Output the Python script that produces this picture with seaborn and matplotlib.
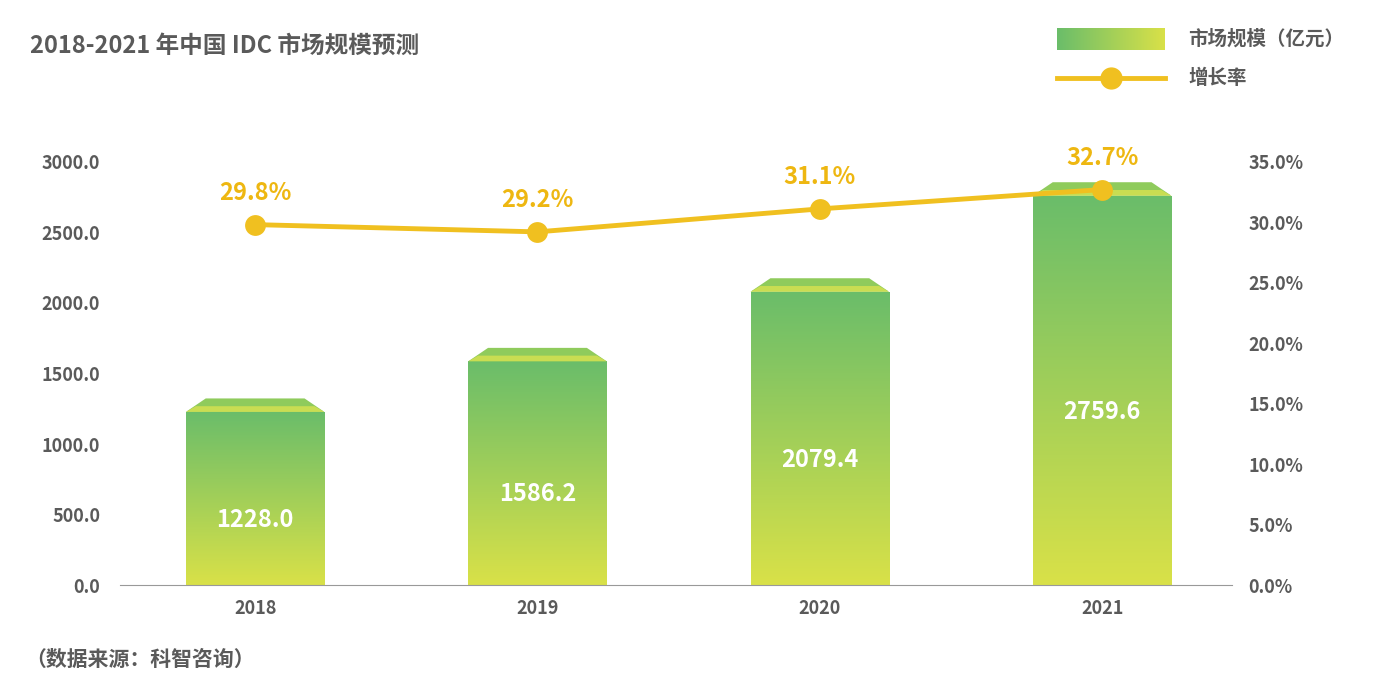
import numpy as np
import pandas as pd
import matplotlib
matplotlib.use("Agg")
import matplotlib.pyplot as plt
import seaborn as sns
from matplotlib.patches import Polygon, Rectangle
from matplotlib.lines import Line2D

years = ["2018", "2019", "2020", "2021"]
market = [1228.0, 1586.2, 2079.4, 2759.6]
growth = [29.8, 29.2, 31.1, 32.7]
left_ticks = [0, 500, 1000, 1500, 2000, 2500, 3000]
right_ticks = [0, 5, 10, 15, 20, 25, 30, 35]

plt.rcParams["font.family"] = ["Noto Sans CJK SC", "DejaVu Sans"]
TXT = "#5a5a5a"
LINE = "#f0c020"
LBL = "#eeb711"

fig = plt.figure(figsize=(13.75, 7), dpi=100)
ax = fig.add_axes([0.087, 0.164, 0.809, 0.605])
df = pd.DataFrame({"year": years, "v": market})
sns.barplot(data=df, x="year", y="v", ax=ax, width=0.49, color="none", edgecolor="none")
ax.set_xlim(-0.48, 3.46)
ax.set_ylim(0, 3000)

grad = np.linspace(0, 1, 256).reshape(-1, 1)
cmap = matplotlib.colors.LinearSegmentedColormap.from_list("g", ["#d9e148", "#6abd6a"])
for p, v in zip(ax.patches, market):
    x0, w = p.get_x(), p.get_width()
    im = ax.imshow(grad, cmap=cmap, aspect="auto", origin="lower",
                   extent=[x0, x0 + w, 0, v], zorder=2)
    rect = Rectangle((x0, 0), w, v, transform=ax.transData)
    im.set_clip_path(rect)
    cap = Polygon([[x0, v], [x0 + w, v], [x0 + w - 0.07, v + 95], [x0 + 0.07, v + 95]],
                  closed=True, facecolor="#8fcb5c", edgecolor="none", zorder=2, clip_on=False)
    ax.add_patch(cap)
    ax.add_patch(Polygon([[x0, v], [x0 + w, v], [x0 + w - 0.035, v + 40], [x0 + 0.035, v + 40]],
                         closed=True, facecolor="#c9dd52", edgecolor="none", zorder=2, clip_on=False))
    ax.text(p.get_x() + w / 2, v / 2 - 150, f"{v:.1f}", ha="center", va="center",
            color="white", fontsize=17, fontweight="bold", zorder=5)

ax.set_yticks(left_ticks)
ax.set_yticklabels([f"{t:.1f}" for t in left_ticks])
ax.set_xlabel(""); ax.set_ylabel("")
for s in ["top", "right", "left"]:
    ax.spines[s].set_visible(False)
ax.spines["bottom"].set_color("#999999")
ax.tick_params(axis="y", length=0, pad=14, labelsize=13, labelcolor=TXT)
ax.tick_params(axis="x", length=0, pad=10, labelsize=13, labelcolor=TXT)
for t in ax.get_xticklabels() + ax.get_yticklabels():
    t.set_fontweight("bold")

ax2 = ax.twinx()
ax2.set_ylim(0, 35)
sns.lineplot(x=list(range(4)), y=growth, ax=ax2, color=LINE, lw=3.5, marker="o",
             markersize=15, markeredgewidth=0, zorder=6)
for i, g in enumerate(growth):
    ax2.text(i, g + 2.6, f"{g:.1f}%", ha="center", va="center", color=LBL,
             fontsize=17, fontweight="bold")
ax2.set_yticks(right_ticks)
ax2.set_yticklabels([f"{t:.1f}%" for t in right_ticks])
ax2.tick_params(axis="y", length=0, pad=12, labelsize=13, labelcolor=TXT)
for t in ax2.get_yticklabels():
    t.set_fontweight("bold")
for s in ax2.spines.values():
    s.set_visible(False)
ax2.set_ylabel("")

fig.text(0.022, 0.935, "2018-2021 年中国 IDC 市场规模预测", fontsize=17, fontweight="bold",
         color=TXT, va="center")
fig.text(0.018, 0.058, "（数据来源：科智咨询）", fontsize=15, fontweight="bold", color=TXT, va="center")

# legend
lax = fig.add_axes([0.769, 0.928, 0.078, 0.032])
lax.imshow(np.linspace(0, 1, 256).reshape(1, -1), cmap=matplotlib.colors.LinearSegmentedColormap.from_list(
    "h", ["#6abd6a", "#d9e148"]), aspect="auto")
lax.axis("off")
fig.add_artist(Line2D([0.769, 0.847], [0.888, 0.888], color=LINE, lw=3.5,
                      transform=fig.transFigure))
fig.add_artist(Line2D([0.808], [0.888], color=LINE, marker="o", markersize=15, lw=0,
                      transform=fig.transFigure))
fig.text(0.864, 0.944, "市场规模（亿元）", fontsize=14, fontweight="bold", color=TXT, va="center")
fig.text(0.864, 0.888, "增长率", fontsize=14, fontweight="bold", color=TXT, va="center")

fig.savefig("out.png", dpi=100)
